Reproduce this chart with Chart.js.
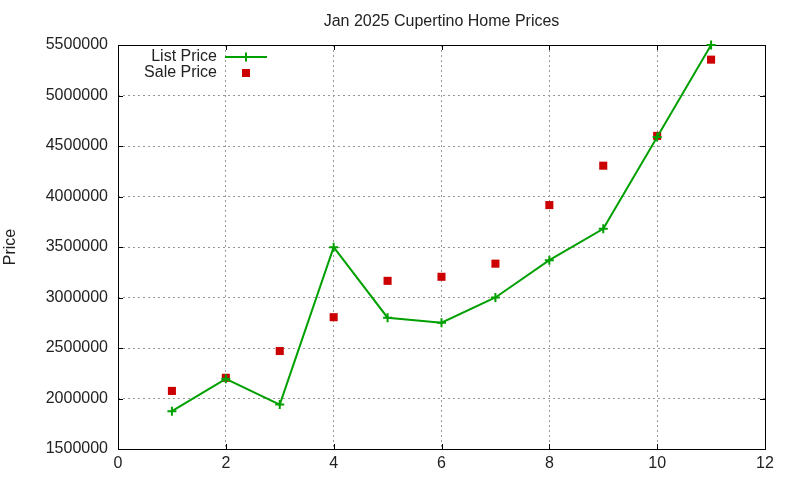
<!DOCTYPE html>
<html>
<head>
<meta charset="utf-8">
<script src="https://cdn.jsdelivr.net/npm/chart.js@4/dist/chart.umd.min.js"></script>
<style>
  html, body { margin: 0; padding: 0; background: #fff; }
  #wrap { width: 800px; height: 480px; }
</style>
</head>
<body>
<div id="wrap"><canvas id="chart" width="800" height="480"></canvas></div>
<script>
// Month of Jan 2025 listing (x) and the prices
const months = [1, 2, 3, 4, 5, 6, 7, 8, 9, 10, 11];
const listPrice = [1875000, 2195000, 1940000, 3498000, 2800000, 2750000, 3000000, 3370000, 3680000, 4590000, 5500000];
const salePrice = [2075000, 2205000, 2470000, 2805000, 3165000, 3205000, 3335000, 3915000, 4305000, 4600000, 5355000];

const FONT = 'Liberation Sans, Arial, sans-serif';

// gnuplot-like frame with inward ticks on all four sides
const framePlugin = {
  id: 'frame',
  beforeDatasetsDraw(chart) {
    const {ctx, chartArea: a, scales} = chart;
    ctx.save();
    ctx.strokeStyle = '#000';
    ctx.lineWidth = 1;
    ctx.beginPath();
    scales.x.ticks.forEach(t => {
      const px = Math.round(scales.x.getPixelForValue(t.value)) + 0.5;
      ctx.moveTo(px, a.bottom); ctx.lineTo(px, a.bottom - 5);
      ctx.moveTo(px, a.top); ctx.lineTo(px, a.top + 5);
    });
    scales.y.ticks.forEach(t => {
      const py = Math.round(scales.y.getPixelForValue(t.value)) + 0.5;
      ctx.moveTo(a.left, py); ctx.lineTo(a.left + 5, py);
      ctx.moveTo(a.right, py); ctx.lineTo(a.right - 5, py);
    });
    ctx.stroke();
    ctx.strokeRect(Math.round(a.left) + 0.5, Math.round(a.top) + 0.5,
      Math.round(a.right - a.left), Math.round(a.bottom - a.top));
    ctx.restore();
  }
};

// key in the top-left: label right-aligned, sample to its right
const keyPlugin = {
  id: 'key',
  afterDraw(chart) {
    const {ctx} = chart;
    const textRight = 217, sampleX = 225, sampleW = 42;
    ctx.save();
    ctx.font = '16px ' + FONT;
    ctx.textAlign = 'right';
    ctx.textBaseline = 'middle';
    ctx.fillStyle = '#222';
    chart.data.datasets.forEach((ds, i) => {
      const y = 57 + i * 16;
      ctx.fillText(ds.label, textRight, y);
      const cx = sampleX + sampleW / 2;
      if (ds.showLine !== false) {
        ctx.strokeStyle = ds.borderColor;
        ctx.lineWidth = 2;
        ctx.beginPath();
        ctx.moveTo(sampleX, y); ctx.lineTo(sampleX + sampleW, y);
        ctx.moveTo(cx, y - 4.5); ctx.lineTo(cx, y + 4.5);
        ctx.stroke();
      } else {
        ctx.fillStyle = ds.backgroundColor;
        ctx.fillRect(cx - 4, y - 4, 8, 8);
        ctx.fillStyle = '#222';
      }
    });
    ctx.restore();
  }
};

new Chart(document.getElementById('chart'), {
  type: 'line',
  data: {
    datasets: [
      {
        label: 'List Price',
        data: months.map((m, i) => ({x: m, y: listPrice[i]})),
        borderColor: '#00a000',
        backgroundColor: '#00a000',
        borderWidth: 2,
        pointStyle: 'cross',
        pointRadius: 4.5,
        pointBorderWidth: 2,
        tension: 0,
        clip: false
      },
      {
        label: 'Sale Price',
        data: months.map((m, i) => ({x: m, y: salePrice[i]})),
        showLine: false,
        borderColor: '#cc0000',
        backgroundColor: '#cc0000',
        pointStyle: 'rect',
        pointRadius: 5.7,
        pointBorderWidth: 0,
        clip: false
      }
    ]
  },
  options: {
    responsive: false,
    animation: false,
    devicePixelRatio: 1,
    layout: { padding: { left: 0, right: 35, top: 0, bottom: 0 } },
    plugins: {
      legend: { display: false },
      tooltip: { enabled: false },
      title: {
        display: true,
        text: 'Jan 2025 Cupertino Home Prices',
        fullSize: false,
        color: '#222',
        font: { family: FONT, size: 16, weight: 'normal', lineHeight: 1.2 },
        padding: { top: 12, bottom: 13.8 }
      }
    },
    scales: {
      x: {
        type: 'linear',
        min: 0,
        max: 12,
        afterFit(scale) { scale.height = 31; },
        ticks: {
          stepSize: 2,
          padding: 5,
          color: '#222',
          font: { family: FONT, size: 16 }
        },
        grid: { color: '#999', lineWidth: 1, drawTicks: false },
        border: { display: false, dash: [2, 3] }
      },
      y: {
        type: 'linear',
        min: 1500000,
        max: 5500000,
        afterFit(scale) { scale.width = 118; },
        ticks: {
          stepSize: 500000,
          padding: 10,
          color: '#222',
          font: { family: FONT, size: 16 },
          callback: v => String(v)
        },
        title: {
          display: true,
          text: 'Price',
          color: '#222',
          font: { family: FONT, size: 16, lineHeight: 1.2 },
          padding: { top: 1, bottom: 0 }
        },
        grid: { color: '#999', lineWidth: 1, drawTicks: false },
        border: { display: false, dash: [2, 3] }
      }
    }
  },
  plugins: [framePlugin, keyPlugin]
});
</script>
</body>
</html>
